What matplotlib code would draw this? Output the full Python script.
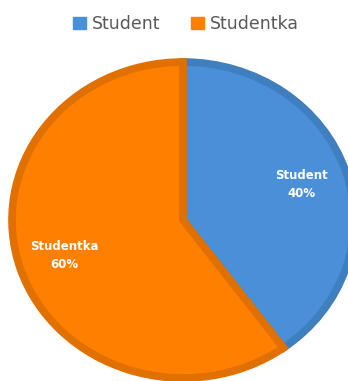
import matplotlib
matplotlib.use("Agg")
import matplotlib.pyplot as plt
from matplotlib.patches import Patch

categories = ["Student", "Studentka"]
shares = [40, 60]

fill_colors = ["#4a90d9", "#ff7f00"]
edge_colors = ["#3f7fc0", "#e07000"]

fig = plt.figure(figsize=(3.48, 3.81), dpi=100)
fig.patch.set_facecolor("white")

W, H = 348, 381
# pie area in pixel coordinates (left, top, right, bottom)
x0, y0, x1, y1 = 12, 62, 354, 378
ax = fig.add_axes([x0 / W, 1 - y1 / H, (x1 - x0) / W, (y1 - y0) / H])
ax.axis("off")

wedges, _, autotexts = ax.pie(
    shares,
    colors=fill_colors,
    startangle=90,
    counterclock=False,
    radius=1.0,
    autopct="%d%%",
    pctdistance=0.73,
    frame=False,
    normalize=True,
)
ax.set_xlim(-1, 1)
ax.set_ylim(-1, 1)
ax.set_aspect("auto")

for w, ec in zip(wedges, edge_colors):
    w.set_edgecolor(ec)
    w.set_linewidth(5.5)
    w.set_clip_path(w)

for t, name, val in zip(autotexts, categories, shares):
    t.set_text(f"{name}\n{val}%")
    t.set_color("white")
    t.set_fontweight("bold")
    t.set_fontsize(8.5)
    t.set_family("DejaVu Sans")
    t.set_linespacing(1.45)
    t.set_ha("center")
    t.set_va("center")

handles = [Patch(facecolor=c, edgecolor=c) for c in fill_colors]
fig.legend(
    handles,
    categories,
    loc="center",
    bbox_to_anchor=(186 / W, 1 - 24 / H),
    ncol=2,
    frameon=False,
    handlelength=0.7,
    handleheight=0.7,
    handletextpad=0.35,
    columnspacing=1.8,
    prop={"family": "DejaVu Sans", "size": 12.5},
    labelcolor="#595959",
)

fig.savefig("out.png", dpi=100, facecolor="white")
